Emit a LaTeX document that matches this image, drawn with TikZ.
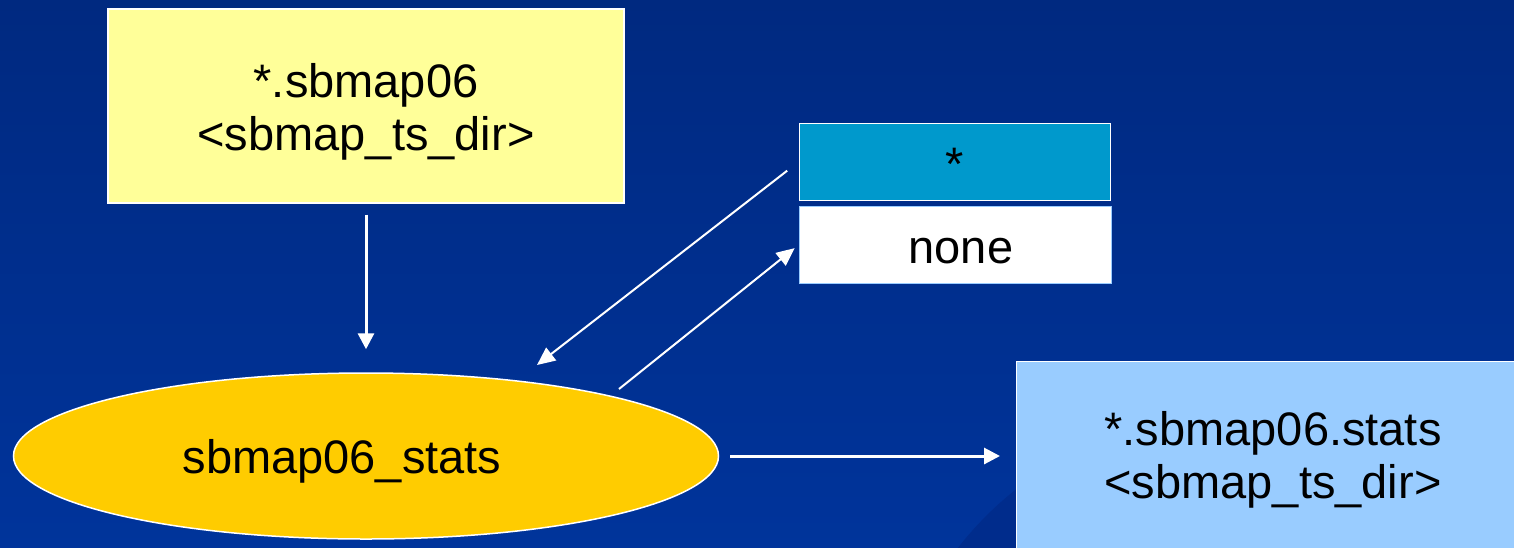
\documentclass[tikz,border=0pt]{standalone}
\usepackage{fontspec}
\setmainfont{Liberation Sans}
\usetikzlibrary{arrows.meta,calc,shapes.geometric}
\definecolor{bgtop}{RGB}{0,41,128}
\definecolor{bgbot}{RGB}{0,52,155}
\definecolor{bgarc}{RGB}{0,44,140}
\definecolor{paleyellow}{RGB}{255,255,153}
\definecolor{gold}{RGB}{255,204,0}
\definecolor{teal}{RGB}{0,153,204}
\definecolor{skyblue}{RGB}{153,204,255}
\tikzset{
  lbl/.style={font=\fontsize{47}{53}\selectfont, align=center, text=black, inner sep=0pt},
  boxnode/.style={draw=white, line width=1.2pt, inner sep=0pt, minimum width=#1},
  flow/.style={draw=white, line width=3pt, -{Triangle[length=16pt,width=16pt]}},
  thinflow/.style={draw=white, line width=2pt, -{Triangle[length=18pt,width=16pt]}}
}
\begin{document}
\begin{tikzpicture}[x=1pt,y=-1pt]
  % slide background with its faint disc
  \shade[top color=bgtop, bottom color=bgbot] (0,0) rectangle (1514,547);
  \begin{scope}
    \clip (0,0) rectangle (1514,547);
    \fill[bgarc] (1230,760) circle (345);
  \end{scope}
  \useasboundingbox (0,0) rectangle (1514,547);

  % input file
  \node[boxnode=516pt, fill=paleyellow, minimum height=194pt] (src) at (366,106) {};
  \node[lbl] (srctxt) at (366,112) {*.sbmap06\\<sbmap\_ts\_dir>};

  % option table
  \node[boxnode=311pt, fill=teal, minimum height=77pt, line width=1pt] (star) at (955,161.5) {};
  \node[lbl] (startxt) at (955,164) {*};
  \node[boxnode=312pt, fill=white, draw=skyblue, minimum height=77pt, line width=1pt] (none) at (955,245) {};
  \node[lbl] (nonetxt) at (961,251) {none};

  % program
  \node[ellipse, draw=white, line width=1.5pt, fill=gold, inner sep=0pt,
        minimum width=705pt, minimum height=166pt] (prog) at (366,456) {};
  \node[lbl] (progtxt) at (342,461) {sbmap06\_stats};

  % output file
  \node[boxnode=510pt, fill=skyblue, minimum height=190pt, anchor=north west] (out) at (1016,361) {};
  \node[lbl] (outtxt) at (1273,460) {*.sbmap06.stats\\<sbmap\_ts\_dir>};

  % arrow ends near the program's top edge
  \coordinate (optin) at ($(prog.center)+(171,-91)$);
  \coordinate (optout) at ($(prog.center)+(253,-67)$);

  \draw[flow, shorten <=11pt, shorten >=23pt] (src.south) -- (prog.north);
  \draw[thinflow, shorten <=15pt] (star.west) -- (optin);
  \draw[thinflow, shorten >=5pt] (optout) -- (none.west);
  \draw[flow, shorten <=11pt, shorten >=16pt] (prog.east) -- (out.west |- prog.east);
\end{tikzpicture}
\end{document}
